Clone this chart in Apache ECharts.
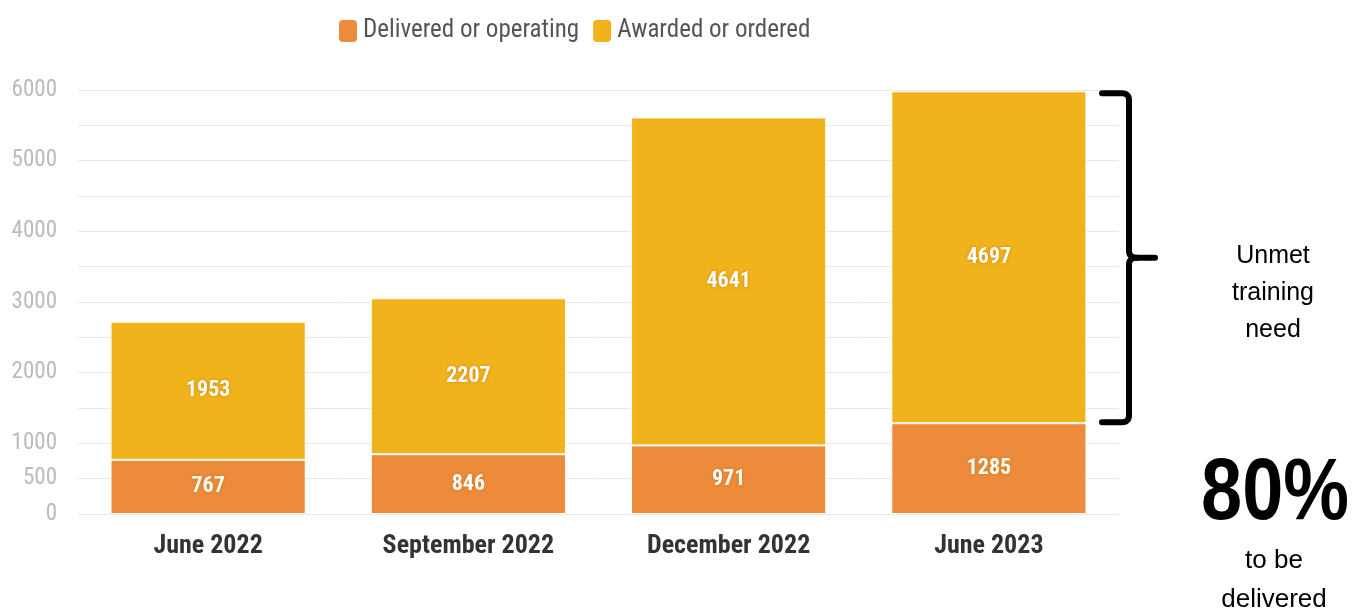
<!DOCTYPE html>
<html><head><meta charset="utf-8">
<script src="https://cdn.jsdelivr.net/npm/echarts@6/dist/echarts.min.js"></script>
<style>html,body{margin:0;padding:0;background:#fff}#c{width:1357px;height:610px}</style>
</head><body><div id="c"></div>
<script>
var categories = ['June 2022', 'September 2022', 'December 2022', 'June 2023'];
var delivered = [767, 846, 971, 1285];
var awarded = [1953, 2207, 4641, 4697];
var seriesNames = ['Delivered or operating', 'Awarded or ordered'];
var shownTicks = [0, 500, 1000, 2000, 3000, 4000, 5000, 6000];

var narrow = '"Roboto Condensed", "Open Sans Condensed", sans-serif';
var chart = echarts.init(document.getElementById('c'));
var labelStyle = {show: true, position: 'inside', color: '#fff', fontFamily: narrow, fontWeight: 'bold', fontSize: 22,
  textShadowColor: 'rgba(190,110,0,0.7)', textShadowBlur: 3};
chart.setOption({
  animation: false,
  legend: {top: 13, left: 332, itemWidth: 20, itemHeight: 24, itemGap: 12,
    icon: 'roundRect',
    textStyle: {fontFamily: narrow, fontSize: 25, color: '#555', padding: [0, 0, 0, 0]},
    data: seriesNames},
  grid: {left: 78, right: 238, top: 90, bottom: 96},
  xAxis: {type: 'category', data: categories,
    axisLine: {show: false}, axisTick: {show: false},
    axisLabel: {fontFamily: narrow, fontWeight: 'bold', fontSize: 26, color: '#333', margin: 19}},
  yAxis: {type: 'value', min: 0, max: 6000, interval: 500,
    axisLine: {show: false}, axisTick: {show: false},
    splitLine: {lineStyle: {color: '#e8e8e8', width: 1}},
    axisLabel: {fontFamily: narrow, fontSize: 23, color: '#bbb', margin: 21,
      formatter: function (v) { return shownTicks.indexOf(v) >= 0 ? String(v) : ''; }}},
  series: [
    {name: seriesNames[0], type: 'bar', stack: 's', data: delivered, barWidth: '75%',
      itemStyle: {color: '#ED8B3A', borderColor: '#fff', borderWidth: 1}, label: labelStyle},
    {name: seriesNames[1], type: 'bar', stack: 's', data: awarded, barWidth: '75%',
      itemStyle: {color: '#F0B31C', borderColor: '#fff', borderWidth: 1}, label: labelStyle}
  ]
});

var last = categories.length - 1;
var yTop = chart.convertToPixel({yAxisIndex: 0}, delivered[last] + awarded[last]) + 2;
var yBot = chart.convertToPixel({yAxisIndex: 0}, delivered[last]) - 1;
var yMid = (yTop + yBot) / 2;
var xa = 1102, xb = 1129, r = 7;
function quad(p0, c, p1, out) {
  for (var i = 1; i <= 8; i++) {
    var t = i / 8, u = 1 - t;
    out.push([u * u * p0[0] + 2 * u * t * c[0] + t * t * p1[0], u * u * p0[1] + 2 * u * t * c[1] + t * t * p1[1]]);
  }
}
var upper = [[xa, yTop], [xb - r, yTop]];
quad([xb - r, yTop], [xb, yTop], [xb, yTop + r], upper);
upper.push([xb, yMid - 7]);
quad([xb, yMid - 7], [xb, yMid], [xb + 8, yMid], upper);
upper.push([1155, yMid]);
var lower = [[xb + 8, yMid]];
quad([xb + 8, yMid], [xb, yMid], [xb, yMid + 7], lower);
lower.push([xb, yBot - r]);
quad([xb, yBot - r], [xb, yBot], [xb - r, yBot], lower);
lower.push([xa, yBot]);
var strokeStyle = {fill: null, stroke: '#000', lineWidth: 6, lineCap: 'round', lineJoin: 'round'};
var arial = '"Liberation Sans", Arial, sans-serif';
chart.setOption({graphic: [
  {type: 'polyline', shape: {points: upper}, style: strokeStyle},
  {type: 'polyline', shape: {points: lower}, style: strokeStyle},
  {type: 'text', x: 1273, y: 293, style: {text: 'Unmet\ntraining\nneed', fill: '#000', font: '25px ' + arial,
    textAlign: 'center', textVerticalAlign: 'middle', lineHeight: 37}},
  {type: 'text', x: 1275, y: 495, scaleX: 0.84, style: {text: '80%', fill: '#000', font: 'bold 88px ' + arial,
    textAlign: 'center', textVerticalAlign: 'middle'}},
  {type: 'text', x: 1274, y: 580, style: {text: 'to be\ndelivered', fill: '#000', font: '26px ' + arial,
    textAlign: 'center', textVerticalAlign: 'middle', lineHeight: 39}}
]});
</script></body></html>
